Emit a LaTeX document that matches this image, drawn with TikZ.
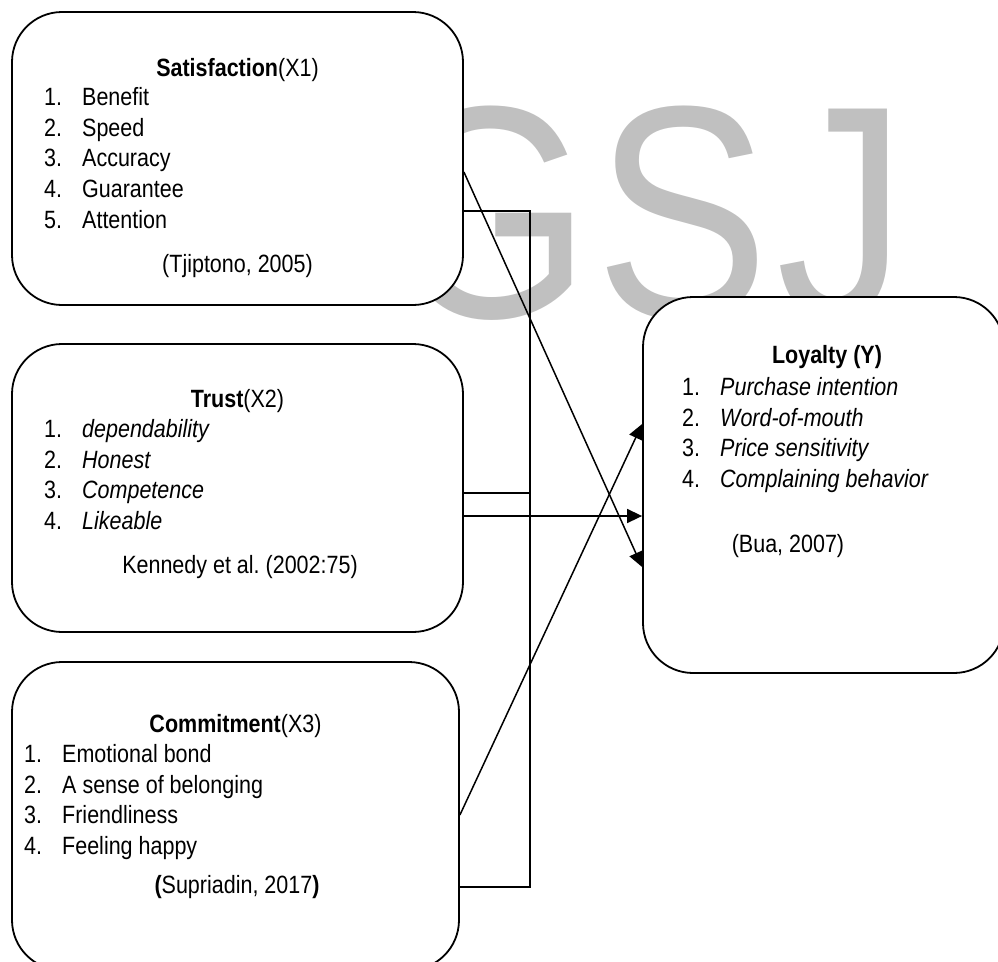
\documentclass[tikz,border=0pt]{standalone}
\usepackage{fontspec}
\setmainfont{Liberation Sans}[FakeStretch=0.86]
\usetikzlibrary{positioning,calc,arrows.meta}
\tikzset{>={Triangle[length=15pt,width=14pt]}}
\definecolor{wmgray}{RGB}{192,192,192}
\newcommand{\itm}[1]{\makebox[38pt][l]{#1.}}

\begin{document}
\begin{tikzpicture}
	[x=1pt,y=-1pt,
	varbox/.style={draw,line width=1.8pt,fill=white,rounded corners=50pt,inner sep=0pt},
	head/.style={font=\fontsize{25}{30.7}\selectfont,inner sep=0pt,anchor=base},
	items/.style={font=\fontsize{25}{30.7}\selectfont,align=left,inner sep=0pt,anchor=north west},
	wm/.style={text=wmgray,font=\fontsize{303}{303}\selectfont,inner sep=0pt,anchor=base},
	link/.style={line width=1.5pt}]
	\useasboundingbox (0,0) rectangle (998,961);
	% watermark
	\node [wm] (wmG) at (490,317) {G};
	\node [wm] (wmS) at (682,317) {S};
	\node [wm] (wmJ) at (842,317) {J};
	% variables
	\node [varbox,minimum width=451pt,minimum height=293pt] (sat) at (237.5,158.5) {};
	\node [varbox,minimum width=451pt,minimum height=288pt] (trust) at (237.5,488) {};
	\node [varbox,minimum width=447pt,minimum height=308pt] (comm) at (235.5,816) {};
	\node [varbox,minimum width=361pt,minimum height=376pt] (loy) at (823.5,485) {};
	\node [head] (satHead) at (237.5,76) {\textbf{Satisfaction}(X1)};
	\node [items] (satList) at (44,87) {\itm{1}Benefit\\ \itm{2}Speed\\ \itm{3}Accuracy\\ \itm{4}Guarantee\\ \itm{5}Attention};
	\node [head] (satCite) at (237.5,272) {(Tjiptono, 2005)};
	\node [head] (trustHead) at (237.5,407) {\textbf{Trust}(X2)};
	\node [items] (trustList) at (44,419) {\itm{1}\textit{dependability}\\ \itm{2}\textit{Honest}\\ \itm{3}\textit{Competence}\\ \itm{4}\textit{Likeable}};
	\node [head] (trustCite) at (240,573) {Kennedy et al.\ (2002:75)};
	\node [head] (commHead) at (235.5,732) {\textbf{Commitment}(X3)};
	\node [items] (commList) at (24,744) {\itm{1}Emotional bond\\ \itm{2}A sense of belonging\\ \itm{3}Friendliness\\ \itm{4}Feeling happy};
	\node [head] (commCite) at (237,893) {\textbf{(}Supriadin, 2017\textbf{)}};
	\node [head] (loyHead) at (827,363) {\textbf{Loyalty (Y)}};
	\node [items] (loyList) at (682,377) {\itm{1}\textit{Purchase intention}\\ \itm{2}\textit{Word-of-mouth}\\ \itm{3}\textit{Price sensitivity}\\ \itm{4}\textit{Complaining behavior}};
	\node [head] (loyCite) at (788,552) {(Bua, 2007)};
	% links
	\coordinate (busTop) at (530,211);
	\coordinate (busJoin) at (530,493);
	\coordinate (busEnd) at (530,887);
	\draw[link] (sat.east |- busTop) -- (busTop) -- (busEnd) -- (comm.east |- busEnd);
	\draw[link] (trust.east |- busJoin) -- (busJoin);
	\draw[link,->] (sat.east |- 0,172) -- (loy.west |- 0,567);
	\draw[link,->] (trust.east |- 0,516) -- (loy.west |- 0,516);
	\draw[link,->] (comm.east |- 0,815) -- (loy.west |- 0,424);
\end{tikzpicture}
\end{document}
